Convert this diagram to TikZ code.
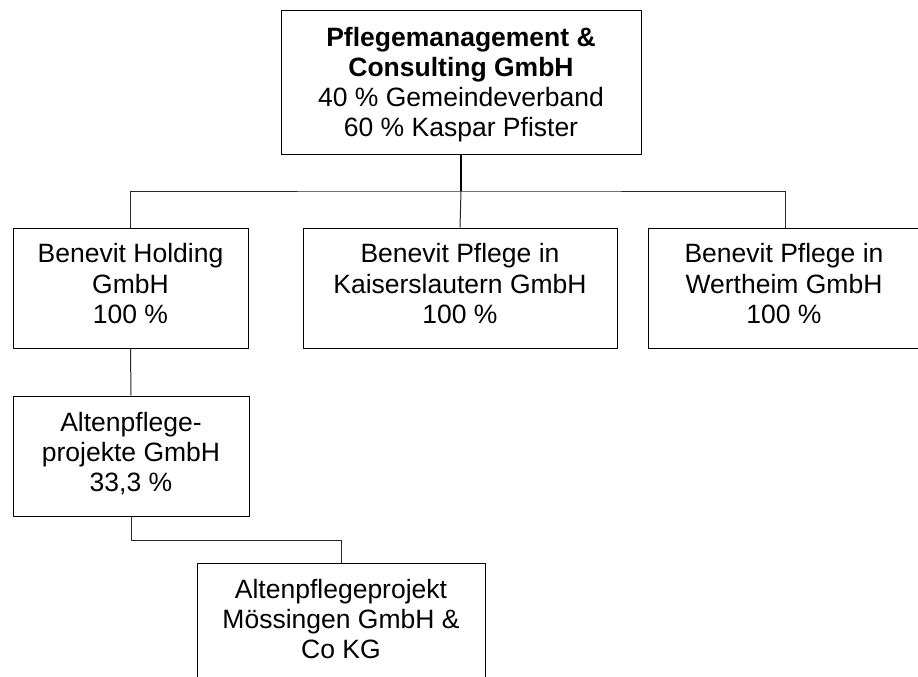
\documentclass[tikz,border=0pt]{standalone}
\usepackage{fontspec}
\setmainfont{Liberation Sans}
\tikzset{
  box/.style={draw=black, line width=1pt, inner sep=0pt, fill=white},
  lbl/.style={align=center, inner sep=0pt, font=\fontsize{26.5}{30.2}\selectfont},
  conn/.style={draw=black!85, line width=1pt},
  mainconn/.style={draw=black, line width=2pt}
}
\begin{document}
\begin{tikzpicture}[x=1pt,y=-1pt]
\useasboundingbox (0,0) rectangle (918,677);
\clip (0,0) rectangle (918,677);
\fill[white] (0,0) rectangle (918,677);
% boxes
\node[box, minimum width=360pt, minimum height=143pt] (top) at (461,82.5) {};
\node[box, minimum width=235pt, minimum height=120pt] (holding) at (130.5,288) {};
\node[box, minimum width=314pt, minimum height=120pt] (kaiser) at (460,288) {};
\node[box, minimum width=273pt, minimum height=120pt] (wertheim) at (785,288) {};
\node[box, minimum width=236pt, minimum height=120pt] (alten) at (131,456) {};
\node[box, minimum width=288pt, minimum height=120pt] (moess) at (341,623) {};
% labels
\node[lbl] (topT) at (461,84.75) {\textbf{Pflegemanagement \&}\\\textbf{Consulting GmbH}\\40 \% Gemeindeverband\\60 \% Kaspar Pfister};
\node[lbl] (holdingT) at (130.5,283.7) {Benevit Holding\\GmbH\\100 \%};
\node[lbl] (kaiserT) at (460,283.7) {Benevit Pflege in\\Kaiserslautern GmbH\\100 \%};
\node[lbl] (wertheimT) at (784,283.7) {Benevit Pflege in\\Wertheim GmbH\\100 \%};
\node[lbl] (altenT) at (131,453.7) {Altenpflege-\\projekte GmbH\\33,3 \%};
\node[lbl] (moessT) at (341,619) {Altenpflegeprojekt\\Mössingen GmbH \&\\Co KG};
% connectors
\coordinate (j) at (461,191);
\draw[mainconn] (top.south) -- (j);
\draw[conn] (holding.north) |- (j) -| (wertheim.north);
\draw[conn] (j) -- (kaiser.north);
\draw[conn] (holding.south) -- (alten.north);
\coordinate (k) at (131,540);
\draw[conn] (alten.south) -- (k) -| (moess.north);
\end{tikzpicture}
\end{document}
